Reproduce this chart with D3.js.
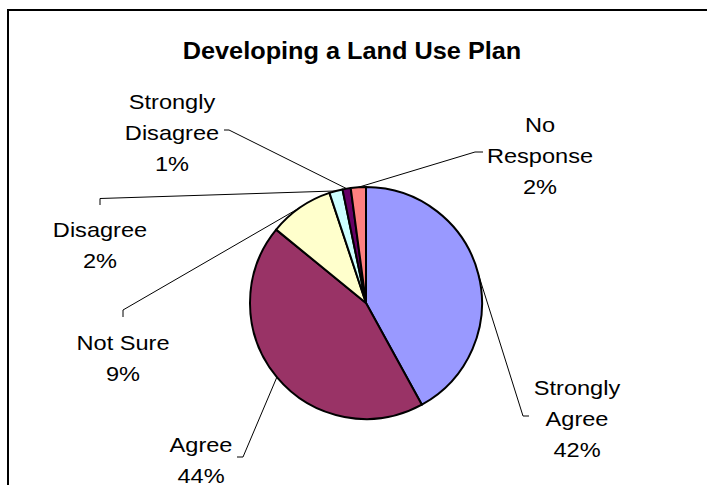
<!DOCTYPE html>
<html>
<head>
<meta charset="utf-8">
<script src="https://cdn.jsdelivr.net/npm/d3@7"></script>
<style>
  body { margin: 0; background: #fff; }
  text { font-family: "Liberation Sans", Arial, sans-serif; fill: #000; }
</style>
</head>
<body>
<div id="chart-container"></div>
<script>
// data
const categories = ['Strongly Agree', 'Agree', 'Not Sure', 'Disagree', 'Strongly Disagree', 'No Response']
const values = [42.0, 43.9, 9.0, 1.85, 1.15, 2.1]
const pctLabels = ['42%', '44%', '9%', '2%', '1%', '2%']
const labelLines = [
  ['Strongly', 'Agree'],
  ['Agree'],
  ['Not Sure'],
  ['Disagree'],
  ['Strongly', 'Disagree'],
  ['No', 'Response']
]
const colors = ['#9999FF', '#993366', '#FFFFCC', '#CCFFFF', '#660066', '#FF8080']

// layout (label placement, as the chart had them dragged)
const width = 707
const height = 485
const cx = 366
const cy = 303
const radius = 116
const lineGap = 31
// [x of label centre, y of first line centre]
const labelPos = [[577, 388], [201, 445], [123, 343], [100, 230], [172, 102], [540, 125]]
// leader elbow and end points
const leaderPts = [
  [[523, 416], [529, 416]],
  [[243, 457], [237, 457]],
  [[123, 310], [123, 317]],
  [[100, 198.5], [100, 205]],
  [[229, 130], [224, 130]],
  [[475, 152], [483, 152]]
]

const svg = d3.select('#chart-container')
  .append('svg')
  .attr('width', width)
  .attr('height', height)

svg.append('rect')
  .attr('x', 8)
  .attr('y', 10)
  .attr('width', 740)
  .attr('height', 520)
  .attr('fill', '#fff')
  .attr('stroke', '#000')
  .attr('stroke-width', 2)

svg.append('text')
  .attr('transform', 'translate(352, 59) scale(1.1, 1)')
  .attr('text-anchor', 'middle')
  .attr('font-size', '23px')
  .attr('font-weight', 'bold')
  .text('Developing a Land Use Plan')

const pie = d3.pie().sort(null).value(d => d)
const arcs = pie(values)
const arc = d3.arc().innerRadius(0).outerRadius(radius)
const edge = d3.arc().innerRadius(radius).outerRadius(radius)

const g = svg.append('g')
  .attr('transform', `translate(${cx}, ${cy})`)

g.selectAll('path.slice')
  .data(arcs).enter()
  .append('path')
  .attr('class', 'slice')
  .attr('d', arc)
  .attr('fill', (d, i) => colors[i])
  .attr('stroke', '#000')
  .attr('stroke-width', 2)
  .attr('stroke-linejoin', 'round')

// leader lines
svg.append('g')
  .selectAll('polyline')
  .data(arcs).enter()
  .append('polyline')
  .attr('points', (d, i) => {
    const c = edge.centroid(d)
    const pts = [[cx + c[0], cy + c[1]]].concat(leaderPts[i])
    return pts.map(p => p.join(',')).join(' ')
  })
  .attr('fill', 'none')
  .attr('stroke', '#000')
  .attr('stroke-width', 1)

// labels
const labels = svg.append('g')
  .selectAll('g.label')
  .data(categories).enter()
  .append('g')
  .attr('class', 'label')
  .attr('transform', (d, i) => `translate(${labelPos[i][0]}, ${labelPos[i][1]}) scale(1.15, 1)`)

labels.each(function (d, i) {
  const lines = labelLines[i].concat([pctLabels[i]])
  d3.select(this).selectAll('text')
    .data(lines).enter()
    .append('text')
    .attr('x', 0)
    .attr('y', (t, j) => j * lineGap + 7)
    .attr('text-anchor', 'middle')
    .attr('font-size', '20.5px')
    .text(t => t)
})
</script>
</body>
</html>
